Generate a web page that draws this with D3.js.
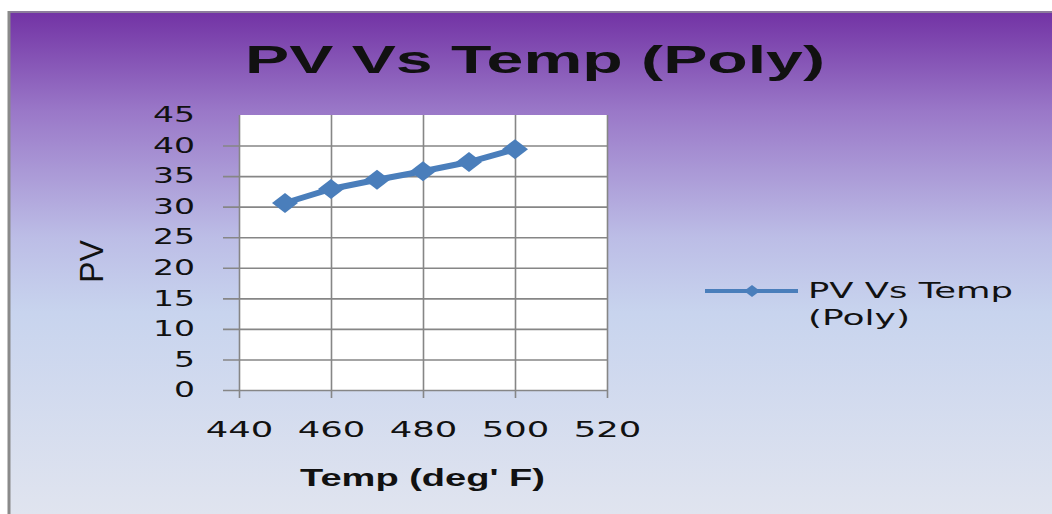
<!DOCTYPE html>
<html>
<head>
<meta charset="utf-8">
<script src="https://cdn.jsdelivr.net/npm/d3@7"></script>
<style>
  body { margin: 0; background: #fff; }
  text { font-family: "DejaVu Sans", sans-serif; fill: #111; }
</style>
</head>
<body>
<div id="chart"></div>
<script>
// data
var temps = [450, 460, 470, 480, 490, 500];
var pvValues = [30.6, 32.9, 34.4, 35.8, 37.3, 39.4];
var xTicks = [440, 460, 480, 500, 520];
var yTicks = [0, 5, 10, 15, 20, 25, 30, 35, 40, 45];
var seriesName = ["PV Vs Temp", "(Poly)"];

var svgWidth = 1052, svgHeight = 514;
var margin = {top: 115, left: 239, right: 445, bottom: 124};
var chartWidth = svgWidth - margin.left - margin.right;
var chartHeight = svgHeight - margin.top - margin.bottom;

var svg = d3.select("#chart").append("svg")
    .attr("width", svgWidth)
    .attr("height", svgHeight);

// background gradient
var defs = svg.append("defs");
var grad = defs.append("linearGradient").attr("id", "bg")
    .attr("x1", 0).attr("y1", 0).attr("x2", 0).attr("y2", 1);
[[0, "#7232a4"], [0.2, "#9a78c8"], [0.45, "#bcbde6"], [0.6, "#c8d4ee"], [1, "#e0e4ef"]]
  .forEach(function(s) { grad.append("stop").attr("offset", s[0]).attr("stop-color", s[1]); });

svg.append("rect").attr("x", 9).attr("y", 11).attr("width", svgWidth - 9).attr("height", svgHeight - 11)
    .attr("fill", "url(#bg)");
svg.append("line").attr("x1", 9).attr("x2", svgWidth).attr("y1", 12).attr("y2", 12)
    .attr("stroke", "#8c7c9c").attr("stroke-width", 2);
svg.append("line").attr("x1", 9).attr("x2", 9).attr("y1", 11).attr("y2", svgHeight)
    .attr("stroke", "#8a8a8a").attr("stroke-width", 3);

var chartGroup = svg.append("g")
    .attr("transform", `translate(${margin.left}, ${margin.top})`);

var xScale = d3.scaleLinear().domain([440, 520]).range([0, chartWidth]);
var yScale = d3.scaleLinear().domain([0, 45]).range([chartHeight, 0]);

chartGroup.append("rect").attr("width", chartWidth).attr("height", chartHeight).attr("fill", "#fff");

// horizontal gridlines + left ticks
var leftAxis = d3.axisLeft(yScale).tickValues(yTicks).tickSize(0).tickPadding(44);
var yAxisG = chartGroup.append("g").call(leftAxis);
yAxisG.select(".domain").remove();
yAxisG.selectAll(".tick").filter(d => d < 45).append("line")
    .attr("x1", -16).attr("x2", chartWidth)
    .attr("stroke", "#868686").attr("stroke-width", 1.6);
yAxisG.selectAll("text")
    .style("font-size", "21px")
    .attr("fill", "#222")
    .attr("textLength", d => String(d).length * 21)
    .attr("lengthAdjust", "spacingAndGlyphs");

// vertical gridlines + bottom ticks
var bottomAxis = d3.axisBottom(xScale).tickValues(xTicks).tickSize(0).tickPadding(32);
var xAxisG = chartGroup.append("g")
    .attr("transform", `translate(0, ${chartHeight})`)
    .call(bottomAxis);
xAxisG.select(".domain").remove();
xAxisG.selectAll(".tick").append("line")
    .attr("y1", 8).attr("y2", -chartHeight)
    .attr("stroke", "#868686").attr("stroke-width", 1.6);
xAxisG.selectAll("text")
    .style("font-size", "21px")
    .attr("fill", "#222")
    .attr("textLength", d => String(d).length * 22.5)
    .attr("lengthAdjust", "spacingAndGlyphs");

// series line
var data = temps.map((t, i) => ({temp: t, pv: pvValues[i]}));
var line = d3.line().x(d => xScale(d.temp)).y(d => yScale(d.pv));
chartGroup.append("path").datum(data)
    .attr("d", line)
    .attr("fill", "none")
    .attr("stroke", "#4a7ebb")
    .attr("stroke-width", 6);

var diamond = "M0,-10L13,0L0,10L-13,0Z";
chartGroup.selectAll(".marker").data(data).enter().append("path")
    .attr("class", "marker")
    .attr("transform", d => `translate(${xScale(d.temp)}, ${yScale(d.pv)})`)
    .attr("d", diamond)
    .attr("fill", "#4a7ebb");

// title
svg.append("text")
    .attr("x", 245).attr("y", 73)
    .attr("textLength", 580).attr("lengthAdjust", "spacingAndGlyphs")
    .style("font-family", "'Liberation Sans', sans-serif")
    .style("font-weight", "bold").style("font-size", "39px")
    .attr("fill", "#0d0018")
    .text("PV Vs Temp (Poly)");

// axis titles
svg.append("text")
    .attr("x", 300).attr("y", 486)
    .attr("textLength", 245).attr("lengthAdjust", "spacingAndGlyphs")
    .style("font-family", "'Liberation Sans', sans-serif")
    .style("font-weight", "bold").style("font-size", "23px")
    .text("Temp (deg' F)");

svg.append("text")
    .attr("transform", "translate(103, 283) rotate(-90) scale(1, 1.25)")
    .attr("textLength", 43).attr("lengthAdjust", "spacingAndGlyphs")
    .style("font-family", "'Liberation Sans', sans-serif")
    .style("font-size", "26px")
    .text("PV");

// legend
var legend = svg.append("g");
legend.append("line").attr("x1", 705).attr("x2", 798).attr("y1", 291).attr("y2", 291)
    .attr("stroke", "#4a7ebb").attr("stroke-width", 4);
legend.append("path").attr("transform", "translate(752, 291)")
    .attr("d", "M0,-6L8,0L0,6L-8,0Z").attr("fill", "#4a7ebb");
legend.selectAll(".lt").data(seriesName).enter().append("text")
    .attr("class", "lt")
    .attr("x", 808).attr("y", (d, i) => 298 + i * 27)
    .attr("textLength", (d, i) => i === 0 ? 205 : 102)
    .attr("lengthAdjust", "spacingAndGlyphs")
    .style("font-size", "22px")
    .attr("fill", "#222")
    .text(d => d);
</script>
</body>
</html>
